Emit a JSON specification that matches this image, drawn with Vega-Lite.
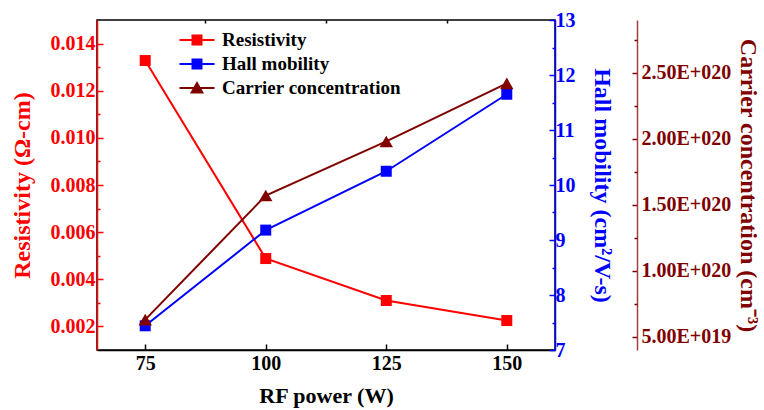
{
  "$schema": "https://vega.github.io/schema/vega-lite/v6.json",
  "autosize": "none",
  "width": 458,
  "height": 330,
  "padding": {"left": 97, "top": 20, "right": 209, "bottom": 60},
  "background": "white",
  "config": {
    "font": "Liberation Serif, Times New Roman, serif",
    "view": {"stroke": "#000000", "strokeWidth": 1.5},
    "axis": {"grid": false, "domainWidth": 1.5, "tickWidth": 1.5, "labelOverlap": false, "labelFont": "Liberation Serif, Times New Roman, serif", "titleFont": "Liberation Serif, Times New Roman, serif", "labelFontWeight": "bold", "titleFontWeight": "bold", "labelFontSize": 20, "titleFontSize": 24}
  },
  "data": {"values": [
    {"power": 75, "resistivity": 0.01328, "mobility": 7.44, "carrier": 6.3e19},
    {"power": 100, "resistivity": 0.00488, "mobility": 9.18, "carrier": 1.57e20},
    {"power": 125, "resistivity": 0.0031, "mobility": 10.25, "carrier": 1.98e20},
    {"power": 150, "resistivity": 0.00225, "mobility": 11.65, "carrier": 2.42e20}
  ]},
  "resolve": {"scale": {"y": "independent", "x": "independent"}},
  "layer": [
    {
      "mark": {"type": "line", "color": "#ff0000", "strokeWidth": 2, "point": {"shape": "square", "size": 121, "filled": true, "color": "#ff0000", "opacity": 1}},
      "encoding": {
        "x": {"field": "power", "type": "quantitative", "scale": {"domain": [65, 160], "nice": false, "zero": false},
          "axis": {"values": [75, 100, 125, 150], "title": "RF power (W)", "labelFont": "Liberation Serif, Times New Roman, serif", "labelFontWeight": "bold", "labelFontSize": 20, "titleFont": "Liberation Serif, Times New Roman, serif", "titleFontWeight": "bold", "titleFontSize": 22, "titleColor": "#000", "labelColor": "#000", "domainColor": "#000", "tickColor": "#000", "tickSize": -6, "labelPadding": 9, "titlePadding": 12}},
        "y": {"field": "resistivity", "type": "quantitative", "scale": {"domain": [0.001, 0.015], "nice": false, "zero": false},
          "axis": {"orient": "left", "values": [0.002, 0.004, 0.006, 0.008, 0.01, 0.012, 0.014], "format": ".3f", "title": "Resistivity (Ω-cm)", "labelFont": "Liberation Serif, Times New Roman, serif", "labelFontWeight": "bold", "labelFontSize": 20, "titleFont": "Liberation Serif, Times New Roman, serif", "titleFontWeight": "bold", "titleFontSize": 24, "titleColor": "#ff0000", "labelColor": "#ff0000", "domainColor": "#ff0000", "tickColor": "#ff0000", "tickSize": -6, "labelPadding": 8, "titlePadding": 16}}
      }
    },
    {
      "mark": {"type": "line", "color": "#0000ff", "strokeWidth": 2, "point": {"shape": "square", "size": 121, "filled": true, "color": "#0000ff", "opacity": 1}},
      "encoding": {
        "x": {"field": "power", "type": "quantitative", "scale": {"domain": [65, 160], "nice": false, "zero": false}, "axis": null},
        "y": {"field": "mobility", "type": "quantitative", "scale": {"domain": [7, 13], "nice": false, "zero": false},
          "axis": {"orient": "right", "values": [7, 8, 9, 10, 11, 12, 13], "title": "Hall mobility (cm²/V-s)", "labelFont": "Liberation Serif, Times New Roman, serif", "labelFontWeight": "bold", "labelFontSize": 20, "titleFont": "Liberation Serif, Times New Roman, serif", "titleFontWeight": "bold", "titleFontSize": 24, "titleColor": "#0000ff", "labelColor": "#0000ff", "domainColor": "#0000ff", "tickColor": "#0000ff", "tickSize": -6, "labelPadding": 6, "titlePadding": 14}}
      }
    },
    {
      "mark": {"type": "line", "color": "#800000", "strokeWidth": 2, "point": {"shape": "triangle-up", "size": 180, "filled": true, "color": "#800000", "opacity": 1}},
      "encoding": {
        "x": {"field": "power", "type": "quantitative", "scale": {"domain": [65, 160], "nice": false, "zero": false}, "axis": null},
        "y": {"field": "carrier", "type": "quantitative", "scale": {"domain": [4e19, 2.9e20], "nice": false, "zero": false},
          "axis": {"orient": "right", "offset": 82, "values": [5e19, 1e20, 1.5e20, 2e20, 2.5e20],
            "labelExpr": "datum.value >= 1e20 ? format(datum.value / 1e20, '.2f') + 'E+020' : format(datum.value / 1e19, '.2f') + 'E+019'",
            "title": "Carrier concentration (cm⁻³)", "labelFont": "Liberation Serif, Times New Roman, serif", "labelFontWeight": "bold", "labelFontSize": 20, "titleFont": "Liberation Serif, Times New Roman, serif", "titleFontWeight": "bold", "titleFontSize": 24, "titleColor": "#800000", "labelColor": "#800000", "domainColor": "#a04040", "tickColor": "#800000", "tickSize": -5, "labelPadding": 9, "titlePadding": 5}}
      }
    },
    {
      "mark": {"type": "point", "opacity": 0},
      "encoding": {
        "x": {"field": "power", "type": "quantitative", "scale": {"domain": [65, 160], "nice": false, "zero": false},
          "axis": {"values": [87.5, 112.5, 137.5], "labels": false, "domain": false, "title": null, "tickColor": "#000", "tickSize": -3}},
        "y": {"field": "resistivity", "type": "quantitative", "scale": {"domain": [0.001, 0.015], "nice": false, "zero": false},
          "axis": {"orient": "left", "values": [0.003, 0.005, 0.007, 0.009, 0.011, 0.013], "labels": false, "domain": false, "title": null, "tickColor": "#ff0000", "tickSize": -3}}
      }
    },
    {
      "mark": {"type": "point", "opacity": 0},
      "encoding": {
        "x": {"field": "power", "type": "quantitative", "scale": {"domain": [65, 160], "nice": false, "zero": false}, "axis": null},
        "y": {"field": "mobility", "type": "quantitative", "scale": {"domain": [7, 13], "nice": false, "zero": false},
          "axis": {"orient": "right", "values": [7.5, 8.5, 9.5, 10.5, 11.5, 12.5], "labels": false, "domain": false, "title": null, "tickColor": "#0000ff", "tickSize": -3}}
      }
    },
    {
      "mark": {"type": "point", "opacity": 0},
      "encoding": {
        "x": {"field": "power", "type": "quantitative", "scale": {"domain": [65, 160], "nice": false, "zero": false}, "axis": null},
        "y": {"field": "carrier", "type": "quantitative", "scale": {"domain": [4e19, 2.9e20], "nice": false, "zero": false},
          "axis": {"orient": "right", "offset": 82, "values": [7.5e19, 1.25e20, 1.75e20, 2.25e20, 2.75e20], "labels": false, "domain": false, "title": null, "tickColor": "#800000", "tickSize": -3}}
      }
    },
    {
      "data": {"values": [
        {"series": "Resistivity"},
        {"series": "Hall mobility"},
        {"series": "Carrier concentration"}
      ]},
      "mark": {"type": "point", "opacity": 0, "filled": true},
      "encoding": {
        "color": {"field": "series", "type": "nominal",
          "scale": {"domain": ["Resistivity", "Hall mobility", "Carrier concentration"], "range": ["#ff0000", "#0000ff", "#800000"]},
          "legend": {"title": null, "orient": "none", "legendX": 90, "legendY": 10, "padding": 0, "symbolSize": 400, "symbolOpacity": 1, "symbolStrokeWidth": 0, "labelFont": "Liberation Serif, Times New Roman, serif", "labelFontWeight": "bold", "labelFontSize": 19, "labelColor": "#000", "labelOffset": 15, "labelLimit": 400, "rowPadding": 4}},
        "shape": {"field": "series", "type": "nominal",
          "scale": {"domain": ["Resistivity", "Hall mobility", "Carrier concentration"], "range": ["M-1.75,-0.1H1.75V0.1H-1.75Z M-0.55,-0.55H0.55V0.55H-0.55Z", "M-1.75,-0.1H1.75V0.1H-1.75Z M-0.55,-0.55H0.55V0.55H-0.55Z", "M-1.75,-0.1H1.75V0.1H-1.75Z M0,-0.7L0.7,0.55H-0.7Z"]},
          "legend": {"title": null, "orient": "none", "legendX": 90, "legendY": 10, "padding": 0, "symbolSize": 400, "symbolOpacity": 1, "symbolStrokeWidth": 0, "labelFont": "Liberation Serif, Times New Roman, serif", "labelFontWeight": "bold", "labelFontSize": 19, "labelColor": "#000", "labelOffset": 15, "labelLimit": 400, "rowPadding": 4}}
      }
    }
  ]
}
